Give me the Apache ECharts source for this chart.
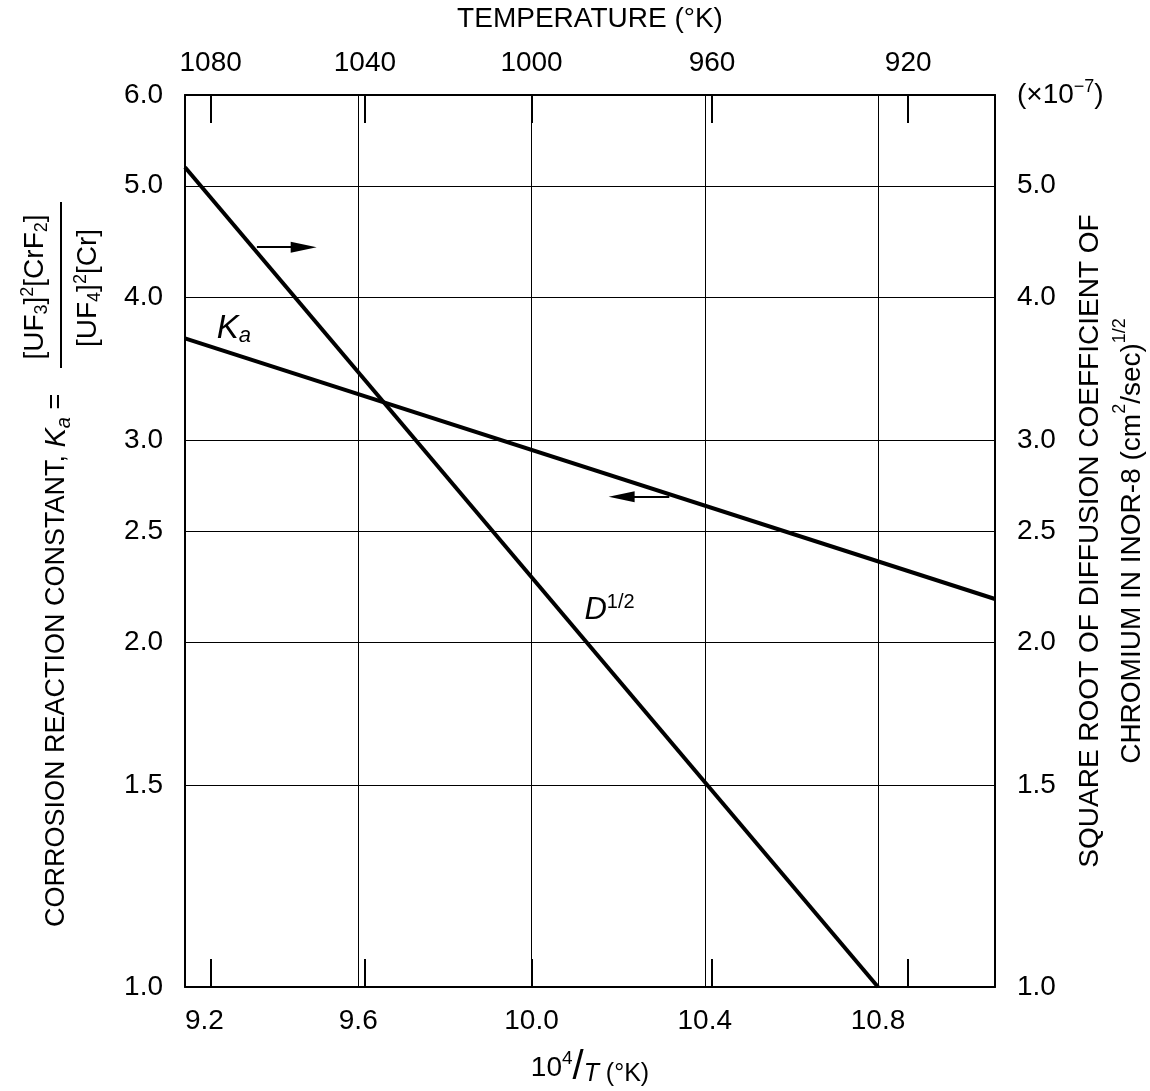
<!DOCTYPE html>
<html><head><meta charset="utf-8">
<script src="https://cdn.jsdelivr.net/npm/echarts@6/dist/echarts.min.js"></script>
<style>html,body{margin:0;padding:0;background:#fff}#c{width:1150px;height:1091px}</style>
</head><body><div id="c"></div>
<script>
// ---- data ----
const xTicks = [9.2, 9.6, 10.0, 10.4, 10.8];          // 10^4/T tick labels
const tempTicks = [1080, 1040, 1000, 960, 920];        // temperature (°K) tick labels
const yTicks = [1.0, 1.5, 2.0, 2.5, 3.0, 4.0, 5.0, 6.0];
const kaX = [9.2, 11.07];
const kaY = [3.68, 2.18];                               // corrosion reaction constant Ka
const dX = [9.2, 10.8];
const dY = [5.19, 1.0];                                 // D^1/2 (x10^-7)
const X_MIN = 9.2, X_MAX = 11.07, Y_MIN = 1, Y_MAX = 6;

const FONT = '"Liberation Sans", Arial, sans-serif';
const BLACK = '#000';
const CLEAR = 'rgba(0,0,0,0)';
const chart = echarts.init(document.getElementById('c'), null, {renderer: 'canvas'});

const pairs = (xs, ys) => xs.map((x, i) => [x, ys[i]]);
const tempPos = tempTicks.map(t => 1e4 / t);

const leftLabelItems = yTicks.map(v => ({
  yAxis: v,
  label: {formatter: v.toFixed(1)}
}));
const rightLabelItems = yTicks.map(v => ({
  yAxis: v,
  label: {formatter: v === Y_MAX ? '{n|(×10}{p|−7}{n|)}' : '{n|' + v.toFixed(1) + '}'}
}));

const arrowStyle = {color: BLACK, width: 2, type: 'solid'};
const arrows = [
  [{coord: [9.366, 4.42], symbol: 'none'}, {coord: [9.474, 4.42], symbol: 'triangle', symbolSize: [11, 26]}],
  [{coord: [10.318, 2.677], symbol: 'none'}, {coord: [10.208, 2.677], symbol: 'triangle', symbolSize: [11, 26]}]
];

const axisLine = {show: true, onZero: false, lineStyle: {color: BLACK, width: 2}};
const txt = {color: BLACK, fontFamily: FONT, fontSize: 28};

const option = {
  animation: false,
  backgroundColor: '#fff',
  grid: {left: 185, right: 155, top: 95, bottom: 104, containLabel: false, outerBoundsMode: 'none'},
  xAxis: [
    {
      type: 'value', position: 'bottom', min: X_MIN, max: X_MAX, interval: 0.4,
      axisLine: axisLine, axisTick: {show: false},
      axisLabel: Object.assign({}, txt, {margin: 20, customValues: xTicks, alignMinLabel: 'left',
        formatter: v => v.toFixed(1)}),
      splitLine: {show: true, lineStyle: {color: BLACK, width: 1}},
      name: '{n|10}{p|4}{s|/}{t|T}{u| (°K)}', nameLocation: 'middle', nameGap: 62,
      nameTextStyle: {color: BLACK, fontFamily: FONT, rich: {
        n: {fontSize: 28, fontFamily: FONT, lineHeight: 38, verticalAlign: 'middle', color: BLACK},
        p: {fontSize: 19, fontFamily: FONT, lineHeight: 22, verticalAlign: 'top', color: BLACK},
        s: {fontSize: 40, fontFamily: FONT, lineHeight: 38, verticalAlign: 'middle', color: BLACK},
        t: {fontSize: 25, fontFamily: FONT, fontStyle: 'italic', lineHeight: 28, verticalAlign: 'bottom', color: BLACK},
        u: {fontSize: 25, fontFamily: FONT, lineHeight: 28, verticalAlign: 'bottom', color: BLACK}
      }}
    },
    {
      type: 'value', position: 'top', min: X_MIN, max: X_MAX,
      axisLine: axisLine,
      axisTick: {show: true, inside: true, length: 28, lineStyle: {color: BLACK, width: 2}, customValues: tempPos},
      axisLabel: Object.assign({}, txt, {margin: 18, customValues: tempPos,
        formatter: v => String(Math.round(1e4 / v))}),
      splitLine: {show: false},
      name: 'TEMPERATURE (°K)', nameLocation: 'middle', nameGap: 62,
      nameTextStyle: Object.assign({}, txt)
    },
    {
      type: 'value', position: 'bottom', min: X_MIN, max: X_MAX,
      axisLine: {show: false},
      axisTick: {show: true, inside: true, length: 28, lineStyle: {color: BLACK, width: 2}, customValues: tempPos},
      axisLabel: {show: false}, splitLine: {show: false}
    }
  ],
  yAxis: [
    {
      type: 'log', logBase: 10, min: Y_MIN, max: Y_MAX, position: 'left',
      axisLine: axisLine, axisTick: {show: false}, axisLabel: {show: false},
      splitLine: {show: false}, minorTick: {show: false}, minorSplitLine: {show: false}
    },
    {
      type: 'log', logBase: 10, min: Y_MIN, max: Y_MAX, position: 'right',
      axisLine: axisLine, axisTick: {show: false}, axisLabel: {show: false},
      splitLine: {show: false},
      name: '{n|SQUARE ROOT OF DIFFUSION COEFFICIENT OF}\n{n|CHROMIUM IN INOR-8 (cm}{p|2}{n|/sec)}{p|1/2}',
      nameLocation: 'middle', nameRotate: 90, nameGap: 74,
      nameTextStyle: {color: BLACK, fontFamily: FONT, align: 'center', rich: {
        n: {fontSize: 28, fontFamily: FONT, lineHeight: 42, verticalAlign: 'middle', color: BLACK},
        p: {fontSize: 18, fontFamily: FONT, lineHeight: 30, verticalAlign: 'top', color: BLACK}
      }}
    }
  ],
  series: [
    {
      name: 'Ka', type: 'line', xAxisIndex: 0, yAxisIndex: 0, data: pairs(kaX, kaY),
      symbol: 'none', silent: true, z: 5,
      lineStyle: {color: BLACK, width: 4},
      markLine: {
        silent: true, animation: false, symbol: ['none', 'none'],
        lineStyle: {color: BLACK, width: 1, type: 'solid'},
        label: Object.assign({}, txt, {show: true, position: 'start', distance: 22}),
        emphasis: {disabled: true},
        data: leftLabelItems
      },
      markPoint: {
        silent: true, symbol: 'circle', symbolSize: 0,
        label: {show: true, position: 'inside', color: BLACK, formatter: '{k|K}{s|a}', rich: {
          k: {fontSize: 33, fontFamily: FONT, fontStyle: 'italic', lineHeight: 36, verticalAlign: 'middle', color: BLACK},
          s: {fontSize: 22, fontFamily: FONT, fontStyle: 'italic', lineHeight: 18, verticalAlign: 'bottom', color: BLACK}
        }},
        data: [{coord: [9.313, 3.75]}]
      }
    },
    {
      name: 'D', type: 'line', xAxisIndex: 0, yAxisIndex: 0, data: pairs(dX, dY),
      symbol: 'none', silent: true, z: 5,
      lineStyle: {color: BLACK, width: 4},
      markLine: {
        silent: true, animation: false, symbol: ['none', 'none'],
        lineStyle: {color: CLEAR, width: 1, type: 'solid'},
        label: {show: true, position: 'end', distance: 22, color: BLACK, fontFamily: FONT, fontSize: 28, rich: {
          n: {fontSize: 28, fontFamily: FONT, lineHeight: 34, verticalAlign: 'middle', color: BLACK},
          p: {fontSize: 18, fontFamily: FONT, lineHeight: 20, verticalAlign: 'top', color: BLACK}
        }},
        emphasis: {disabled: true},
        data: rightLabelItems
      },
      markPoint: {
        silent: true, symbol: 'circle', symbolSize: 0,
        label: {show: true, position: 'inside', color: BLACK, formatter: '{d|D}{p|1/2}', rich: {
          d: {fontSize: 31, fontFamily: FONT, fontStyle: 'italic', lineHeight: 36, verticalAlign: 'middle', color: BLACK},
          p: {fontSize: 20, fontFamily: FONT, lineHeight: 26, verticalAlign: 'top', color: BLACK}
        }},
        data: [{coord: [10.18, 2.13]}]
      }
    },
    {
      name: 'arrows', type: 'line', xAxisIndex: 0, yAxisIndex: 0, data: [[X_MIN, null]],
      symbol: 'none', silent: true,
      markLine: {
        silent: true, animation: false, symbol: ['none', 'triangle'],
        lineStyle: arrowStyle, itemStyle: {color: BLACK},
        label: {show: false}, emphasis: {disabled: true},
        data: arrows
      }
    }
  ],
  graphic: [{
    type: 'group', x: 0, y: 0, rotation: Math.PI / 2, silent: true,
    children: [
      {type: 'text', x: -927, y: 57, style: {
        text: '{n|CORROSION REACTION CONSTANT, }{k|K}{s|a}{n| =}',
        align: 'left', verticalAlign: 'middle', fill: BLACK,
        rich: {
          n: {fontSize: 27, fontFamily: FONT, lineHeight: 34, verticalAlign: 'middle', fill: BLACK},
          k: {fontSize: 29, fontFamily: FONT, fontStyle: 'italic', lineHeight: 34, verticalAlign: 'middle', fill: BLACK},
          s: {fontSize: 20, fontFamily: FONT, fontStyle: 'italic', lineHeight: 14, verticalAlign: 'bottom', fill: BLACK}
        }
      }},
      {type: 'line', shape: {x1: -368, y1: 61, x2: -202, y2: 61}, style: {stroke: BLACK, lineWidth: 2}},
      {type: 'text', x: -287, y: 35, style: {
        text: '{b|[UF}{s|3}{b|]}{p|2}{b|[CrF}{s|2}{b|]}',
        align: 'center', verticalAlign: 'middle', fill: BLACK,
        rich: {
          b: {fontSize: 28, fontFamily: FONT, lineHeight: 32, verticalAlign: 'middle', fill: BLACK},
          s: {fontSize: 18, fontFamily: FONT, lineHeight: 14, verticalAlign: 'bottom', fill: BLACK},
          p: {fontSize: 18, fontFamily: FONT, lineHeight: 16, verticalAlign: 'top', fill: BLACK}
        }
      }},
      {type: 'text', x: -288, y: 88, style: {
        text: '{b|[UF}{s|4}{b|]}{p|2}{b|[Cr]}',
        align: 'center', verticalAlign: 'middle', fill: BLACK,
        rich: {
          b: {fontSize: 28, fontFamily: FONT, lineHeight: 32, verticalAlign: 'middle', fill: BLACK},
          s: {fontSize: 18, fontFamily: FONT, lineHeight: 14, verticalAlign: 'bottom', fill: BLACK},
          p: {fontSize: 18, fontFamily: FONT, lineHeight: 16, verticalAlign: 'top', fill: BLACK}
        }
      }}
    ]
  }]
};
chart.setOption(option);
</script>
</body></html>
